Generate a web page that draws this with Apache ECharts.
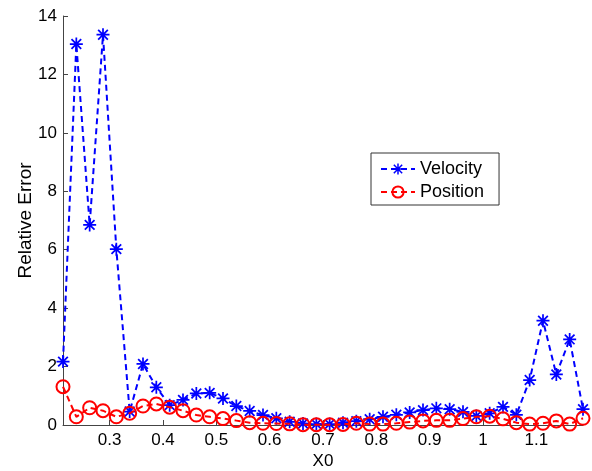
<!DOCTYPE html>
<html>
<head>
<meta charset="utf-8">
<script src="https://cdn.jsdelivr.net/npm/echarts@6/dist/echarts.min.js"></script>
<style>
  html, body { margin: 0; padding: 0; background: #fff; }
  #chart { width: 592px; height: 471px; }
</style>
</head>
<body>
<div id="chart"></div>
<script>
// Sample positions X0 (step 0.025)
const x0 = [];
for (let i = 0; i < 40; i++) x0.push(+(0.2125 + i * 0.025).toFixed(4));

const velocityError = [
  2.17, 13.04, 6.85, 13.36, 6.02, 0.46, 2.09, 1.29, 0.68, 0.86,
  1.08, 1.10, 0.91, 0.65, 0.48, 0.34, 0.23, 0.11, 0.05, 0.03,
  0.03, 0.08, 0.13, 0.20, 0.28, 0.35, 0.43, 0.51, 0.57, 0.54,
  0.45, 0.31, 0.40, 0.62, 0.35, 1.54, 3.57, 1.73, 2.93, 0.54
];
const positionError = [
  1.31, 0.28, 0.59, 0.49, 0.28, 0.40, 0.65, 0.72, 0.61, 0.49,
  0.34, 0.28, 0.22, 0.15, 0.08, 0.06, 0.05, 0.04, 0.01, 0.01,
  0.01, 0.02, 0.06, 0.03, 0.03, 0.06, 0.10, 0.14, 0.16, 0.16,
  0.22, 0.28, 0.30, 0.21, 0.08, 0.03, 0.06, 0.14, 0.03, 0.23
];
const xTicks = [0.3, 0.4, 0.5, 0.6, 0.7, 0.8, 0.9, 1.0, 1.1];

const pair = (xs, ys) => xs.map((x, i) => [x, ys[i]]);

// Asterisk marker: a plus and a cross, all sub-paths wound the same way
const asterisk = 'path://M10.4 0 L13.6 0 L13.6 24 L10.4 24 Z ' +
  'M0 10.4 L24 10.4 L24 13.6 L0 13.6 Z ' +
  'M4.2 1.9 L22.1 19.8 L19.8 22.1 L1.9 4.2 Z ' +
  'M19.8 1.9 L22.1 4.2 L4.2 22.1 L1.9 19.8 Z';

const font = 'Liberation Sans, Arial, sans-serif';
const chart = echarts.init(document.getElementById('chart'), null, { renderer: 'canvas' });
chart.setOption({
  animation: false,
  backgroundColor: '#fff',
  grid: { left: 63, right: 9, top: 16, bottom: 46, outerBoundsMode: 'none', containLabel: false },
  legend: {
    left: 371, top: 153,
    orient: 'vertical',
    padding: [7, 15, 4, 9],
    itemGap: 5,
    itemWidth: 34, itemHeight: 14,
    borderColor: '#333', borderWidth: 1,
    backgroundColor: '#fff',
    textStyle: { fontFamily: font, fontSize: 18, color: '#000' },
    data: ['Velocity', 'Position']
  },
  xAxis: {
    type: 'value',
    min: 0.2125, max: 1.1875,
    name: 'X0', nameLocation: 'middle', nameGap: 28, nameMoveOverlap: false,
    nameTextStyle: { fontFamily: font, fontSize: 17, color: '#000' },
    axisLine: { show: true, onZero: false, lineStyle: { color: '#444', width: 1 } },
    axisTick: { show: true, inside: true, length: 5, customValues: xTicks, lineStyle: { color: '#444' } },
    axisLabel: {
      customValues: xTicks, margin: 7,
      fontFamily: font, fontSize: 17, color: '#000',
      formatter: v => String(+v.toFixed(1))
    },
    splitLine: { show: false }
  },
  yAxis: {
    type: 'value',
    min: 0, max: 14, interval: 2,
    name: 'Relative Error', nameLocation: 'middle', nameGap: 28, nameMoveOverlap: false,
    nameTextStyle: { fontFamily: font, fontSize: 19, color: '#000' },
    axisLine: { show: true, lineStyle: { color: '#444', width: 1 } },
    axisTick: { show: true, inside: true, length: 5, lineStyle: { color: '#444' } },
    axisLabel: { margin: 6, fontFamily: font, fontSize: 17, color: '#000' },
    splitLine: { show: false }
  },
  series: [
    {
      name: 'Velocity', type: 'line',
      data: pair(x0, velocityError),
      symbol: asterisk, symbolSize: 13, showAllSymbol: true,
      itemStyle: { color: '#0000ff' },
      lineStyle: { color: '#0000ff', width: 2, type: [6, 4] },
      z: 2
    },
    {
      name: 'Position', type: 'line',
      data: pair(x0, positionError),
      symbol: 'circle', symbolSize: 13, showAllSymbol: true,
      itemStyle: { color: 'rgba(255,255,255,0)', borderColor: '#ff0000', borderWidth: 2 },
      lineStyle: { color: '#ff0000', width: 2, type: [6, 4] },
      z: 3
    }
  ]
});
</script>
</body>
</html>
